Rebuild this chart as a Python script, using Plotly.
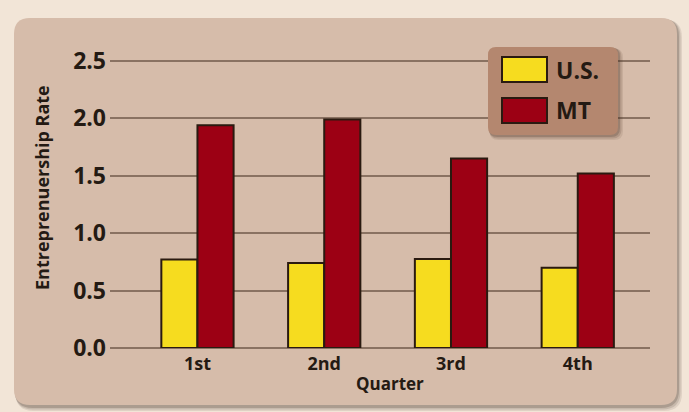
import plotly.graph_objects as go

# ---- data ----
quarters = ["1st", "2nd", "3rd", "4th"]
us_rate = [0.77, 0.74, 0.775, 0.70]
mt_rate = [1.94, 1.99, 1.65, 1.52]
y_tick_vals = [0.0, 0.5, 1.0, 1.5, 2.0, 2.5]
y_tick_text = ["0.0", "0.5", "1.0", "1.5", "2.0", "2.5"]
series_names = ["U.S.", "MT"]
series_colors = ["#f6dc1f", "#9c0014"]

W, H = 689, 412
ML, MR, MT_, MB = 110, 39, 59, 64
PW = W - ML - MR
PH = H - MT_ - MB
YMAX = PH / 114.8
TXT = "#241a13"
OUTLINE = "#2a1a10"
FONT = "Open Sans"


def fx(px):
    return (px - ML) / PW


def fy(py):
    return (H - MB - py) / PH


def rrect(x0, y0, x1, y1, r):
    pts = [
        ("M", (x0 + r, y0)), ("L", (x1 - r, y0)), ("Q", (x1, y0), (x1, y0 + r)),
        ("L", (x1, y1 - r)), ("Q", (x1, y1), (x1 - r, y1)), ("L", (x0 + r, y1)),
        ("Q", (x0, y1), (x0, y1 - r)), ("L", (x0, y0 + r)), ("Q", (x0, y0), (x0 + r, y0)),
    ]
    s = ""
    for p in pts:
        cmd = p[0]
        coords = " ".join(f"{fx(a):.5f},{fy(b):.5f}" for a, b in p[1:])
        s += f"{cmd}{coords} "
    return s + "Z"


fig = go.Figure()
for name, vals, col in zip(series_names, [us_rate, mt_rate], series_colors):
    fig.add_trace(go.Bar(
        x=quarters, y=vals, name=name,
        marker=dict(color=col, line=dict(color=OUTLINE, width=2)),
        showlegend=False, hoverinfo="x+y+name",
    ))

shapes = []
# panel shadow (soft)
for i, op in enumerate([0.10, 0.14, 0.20]):
    d = 5 - i * 1.5
    shapes.append(dict(type="path", xref="paper", yref="paper", layer="below",
                       path=rrect(14 + d * 0.3, 18 + d * 0.3, 677 + d, 406 + d, 18),
                       fillcolor=f"rgba(60,40,30,{op})", line=dict(width=0)))
# panel
shapes.append(dict(type="path", xref="paper", yref="paper", layer="below",
                   path=rrect(14, 18, 677, 405, 16),
                   fillcolor="#d6bcaa", line=dict(width=0)))
# legend shadow
for i, op in enumerate([0.10, 0.16, 0.22]):
    d = 5 - i * 1.5
    shapes.append(dict(type="path", xref="paper", yref="paper", layer="above",
                       path=rrect(488 + d * 0.3, 47 + d * 0.3, 618 + d, 135 + d, 9),
                       fillcolor=f"rgba(70,45,30,{op})", line=dict(width=0)))
# legend box
shapes.append(dict(type="path", xref="paper", yref="paper", layer="above",
                   path=rrect(488, 47, 618, 135, 8),
                   fillcolor="#b4876f", line=dict(width=0)))
# legend swatches
sw_y = [(57, 82), (98, 123)]
for (y0, y1), col in zip(sw_y, series_colors):
    shapes.append(dict(type="rect", xref="paper", yref="paper", layer="above",
                       x0=fx(502), x1=fx(547), y0=fy(y1), y1=fy(y0),
                       fillcolor=col, line=dict(color=OUTLINE, width=2)))

annotations = []
for (y0, y1), name in zip(sw_y, series_names):
    annotations.append(dict(xref="paper", yref="paper", x=fx(554), y=fy((y0 + y1) / 2),
                            text=name, showarrow=False, xanchor="left", yanchor="middle",
                            font=dict(family=FONT, size=23, color=TXT, weight="bold")))
annotations.append(dict(xref="paper", yref="paper", x=fx(390), y=fy(383),
                        text="Quarter", showarrow=False, xanchor="center", yanchor="middle",
                        font=dict(family=FONT, size=17, color=TXT, weight="bold")))
annotations.append(dict(xref="paper", yref="paper", x=fx(42), y=fy(188),
                        text="Entreprenuership Rate", showarrow=False, textangle=-90,
                        xanchor="center", yanchor="middle",
                        font=dict(family=FONT, size=18, color=TXT, weight="bold")))

fig.update_layout(
    width=W, height=H,
    margin=dict(l=ML, r=MR, t=MT_, b=MB, pad=0),
    paper_bgcolor="#f2e5d7", plot_bgcolor="rgba(0,0,0,0)",
    barmode="group", bargap=0.43, bargroupgap=0,
    shapes=shapes, annotations=annotations,
    xaxis=dict(type="category", range=[-0.69, 3.57], showgrid=False, zeroline=False,
               showline=False, ticks="", ticklabelstandoff=3,
               tickfont=dict(family=FONT, size=18, color=TXT, weight="bold")),
    yaxis=dict(range=[0, YMAX], tickvals=y_tick_vals, ticktext=y_tick_text,
               showgrid=True, gridcolor="#8a7262", gridwidth=2,
               zeroline=True, zerolinecolor="#8a7262", zerolinewidth=2,
               showline=False, ticks="", ticklabelstandoff=3,
               tickfont=dict(family=FONT, size=23, color=TXT, weight="bold")),
)

fig.write_html("out.html", config={"displayModeBar": False},
               post_script="document.body.style.margin='0';")
